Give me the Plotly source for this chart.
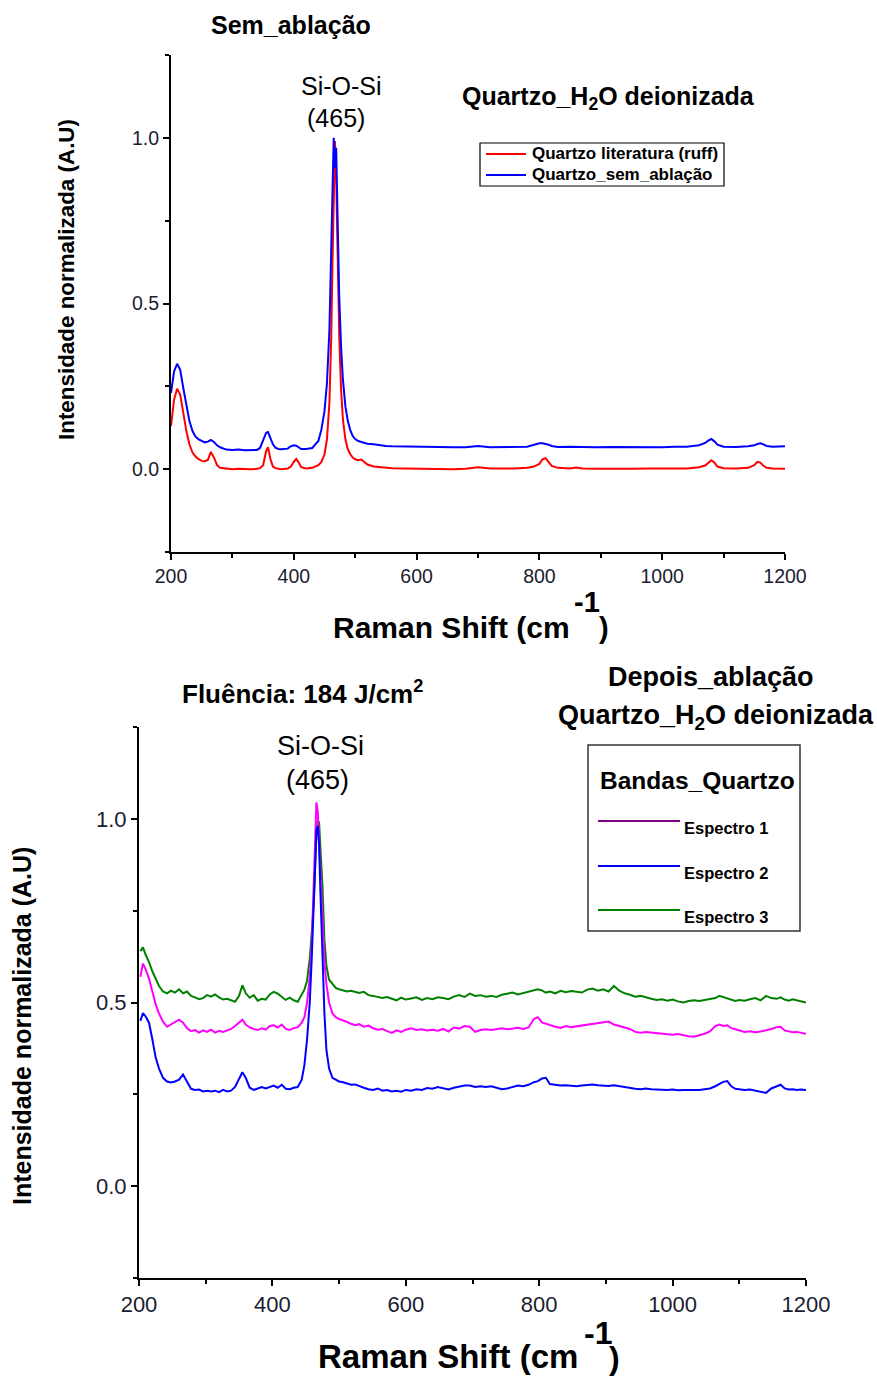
import plotly.graph_objects as go

# ---------------- data: Raman spectra (normalised intensity) ----------------
# Top panel: before ablation
top_shift = [200, 205, 210, 215, 220, 225, 230, 235, 240, 245,
             250, 255, 260, 265, 270, 275, 280, 290, 300, 310,
             320, 330, 340, 345, 350, 355, 358, 362, 366, 370,
             375, 380, 390, 395, 400, 404, 408, 412, 420, 430,
             440, 445, 450, 454, 458, 461, 463, 465, 467, 469,
             471, 474, 477, 480, 484, 488, 492, 496, 500, 505,
             510, 515, 520, 530, 540, 550, 560, 580, 600, 620,
             640, 660, 680, 700, 720, 740, 760, 780, 790, 800,
             805, 810, 815, 820, 830, 850, 860, 870, 890, 920,
             950, 980, 1000, 1020, 1040, 1060, 1070, 1075, 1080, 1085,
             1090, 1100, 1120, 1140, 1150, 1155, 1160, 1165, 1170, 1180,
             1190, 1200]

quartzo_ruff = [0.13, 0.21, 0.243, 0.225, 0.17, 0.115, 0.075, 0.05, 0.038, 0.030,
                0.025, 0.024, 0.028, 0.052, 0.035, 0.012, 0.004, 0.001, 0.0, 0.001,
                0.0, 0.0, 0.001, 0.003, 0.012, 0.055, 0.066, 0.03, 0.008, 0.003,
                0.001, 0.0, 0.002, 0.008, 0.022, 0.031, 0.02, 0.006, 0.002, 0.004,
                0.012, 0.022, 0.045, 0.09, 0.2, 0.4, 0.62, 0.85, 0.99, 0.88,
                0.66, 0.4, 0.24, 0.15, 0.09, 0.06, 0.045, 0.035, 0.03, 0.027,
                0.029, 0.022, 0.014, 0.008, 0.006, 0.004, 0.003, 0.002, 0.001, 0.0,
                0.001, 0.0, 0.001, 0.006, 0.002, 0.001, 0.002, 0.004, 0.007, 0.016,
                0.03, 0.033, 0.022, 0.01, 0.004, 0.002, 0.005, 0.002, 0.001, 0.0,
                0.001, 0.002, 0.001, 0.002, 0.002, 0.006, 0.011, 0.018, 0.027, 0.02,
                0.008, 0.003, 0.002, 0.004, 0.012, 0.022, 0.02, 0.01, 0.004, 0.002,
                0.001, 0.001]

quartzo_sem_ablacao = [0.23, 0.295, 0.318, 0.30, 0.245, 0.19, 0.145, 0.115, 0.098, 0.09,
                       0.085, 0.081, 0.083, 0.088, 0.082, 0.072, 0.066, 0.059, 0.058, 0.059,
                       0.057, 0.058, 0.058, 0.064, 0.085, 0.11, 0.112, 0.092, 0.075, 0.065,
                       0.061, 0.060, 0.062, 0.069, 0.072, 0.071, 0.066, 0.061, 0.061, 0.064,
                       0.085, 0.12, 0.175, 0.26, 0.42, 0.68, 0.92, 1.0, 0.91, 0.97,
                       0.79, 0.52, 0.37, 0.27, 0.19, 0.145, 0.118, 0.1, 0.091, 0.085,
                       0.082, 0.079, 0.077, 0.075, 0.072, 0.07, 0.069, 0.068, 0.067, 0.066,
                       0.067, 0.066, 0.066, 0.07, 0.066, 0.066, 0.067, 0.068, 0.073, 0.078,
                       0.078, 0.077, 0.074, 0.07, 0.067, 0.068, 0.067, 0.068, 0.066, 0.067,
                       0.066, 0.067, 0.066, 0.068, 0.068, 0.072, 0.079, 0.086, 0.091, 0.084,
                       0.074, 0.068, 0.067, 0.069, 0.072, 0.076, 0.078, 0.075, 0.07, 0.068,
                       0.068, 0.069]

# Bottom panel: after ablation (fluence 184 J/cm2)
bot_shift = [202, 206, 210, 215, 220, 225, 230, 236, 242, 248,
             254, 260, 266, 272, 278, 284, 290, 296, 302, 308,
             314, 320, 326, 332, 338, 344, 350, 355, 360, 366,
             372, 378, 384, 390, 396, 402, 408, 414, 420, 426,
             432, 438, 444, 448, 452, 456, 459, 462, 464, 466,
             468, 470, 472, 475, 478, 481, 485, 490, 495, 500,
             506, 512, 518, 524, 530, 537, 544, 551, 558, 565,
             572, 579, 586, 593, 600, 608, 616, 624, 632, 640,
             648, 656, 664, 672, 680, 688, 696, 704, 712, 720,
             728, 736, 744, 752, 760, 768, 776, 784, 792, 798,
             804, 810, 816, 824, 832, 840, 848, 856, 864, 872,
             880, 888, 896, 904, 912, 920, 928, 936, 944, 952,
             960, 968, 976, 984, 992, 1000, 1008, 1016, 1024, 1032,
             1040, 1048, 1056, 1064, 1070, 1076, 1082, 1088, 1094, 1100,
             1108, 1116, 1124, 1132, 1140, 1148, 1156, 1162, 1168, 1174,
             1180, 1186, 1192, 1200]

espectro_1 = [0.57, 0.606, 0.59, 0.565, 0.53, 0.495, 0.47, 0.448, 0.434, 0.44,
              0.447, 0.453, 0.445, 0.43, 0.422, 0.425, 0.418, 0.424, 0.42, 0.426,
              0.418, 0.423, 0.42, 0.425, 0.428, 0.436, 0.445, 0.453, 0.44, 0.432,
              0.428, 0.425, 0.43, 0.426, 0.436, 0.438, 0.432, 0.44, 0.428, 0.425,
              0.43, 0.433, 0.445, 0.46, 0.5, 0.57, 0.66, 0.82, 0.98, 1.045,
              1.02, 0.93, 0.86, 0.72, 0.61, 0.55, 0.5, 0.47, 0.46, 0.455,
              0.452, 0.447, 0.442, 0.438, 0.441, 0.434, 0.437, 0.43, 0.426, 0.428,
              0.422, 0.417, 0.424, 0.42, 0.426, 0.43, 0.425, 0.427, 0.424, 0.426,
              0.423, 0.428, 0.421, 0.432, 0.429, 0.436, 0.434, 0.42, 0.425, 0.427,
              0.425, 0.428, 0.43, 0.427, 0.429, 0.431, 0.428, 0.432, 0.455, 0.46,
              0.446, 0.442, 0.438, 0.434, 0.431, 0.436, 0.433, 0.435, 0.438, 0.44,
              0.442, 0.444, 0.446, 0.448, 0.44, 0.436, 0.43, 0.428, 0.42, 0.418,
              0.42, 0.418, 0.417, 0.414, 0.413, 0.412, 0.414, 0.41, 0.408, 0.407,
              0.41, 0.415, 0.421, 0.436, 0.44, 0.436, 0.438, 0.43, 0.427, 0.424,
              0.42, 0.422, 0.419, 0.421, 0.424, 0.428, 0.433, 0.434, 0.424, 0.421,
              0.419, 0.42, 0.417, 0.415]

espectro_2 = [0.45, 0.471, 0.462, 0.445, 0.4, 0.35, 0.32, 0.295, 0.285, 0.282,
              0.285, 0.29, 0.304, 0.285, 0.265, 0.262, 0.263, 0.258, 0.26, 0.258,
              0.26, 0.256, 0.262, 0.258, 0.26, 0.27, 0.29, 0.31, 0.295, 0.268,
              0.262, 0.265, 0.27, 0.266, 0.27, 0.274, 0.268, 0.276, 0.265, 0.264,
              0.268, 0.27, 0.29, 0.33, 0.4, 0.5, 0.62, 0.78, 0.9, 0.97,
              0.98, 0.93, 0.8, 0.62, 0.47, 0.37, 0.32, 0.295, 0.29, 0.285,
              0.283, 0.28, 0.276, 0.277, 0.272, 0.268, 0.264, 0.262, 0.266, 0.26,
              0.262, 0.258, 0.26, 0.257, 0.262, 0.26, 0.264, 0.262, 0.267, 0.265,
              0.27, 0.266, 0.263, 0.268, 0.272, 0.274, 0.274, 0.27, 0.272, 0.27,
              0.272, 0.267, 0.264, 0.266, 0.27, 0.274, 0.272, 0.276, 0.283, 0.286,
              0.293, 0.295, 0.278, 0.276, 0.274, 0.275, 0.273, 0.272, 0.274, 0.276,
              0.277, 0.275, 0.274, 0.273, 0.275, 0.272, 0.27, 0.268, 0.265, 0.264,
              0.266, 0.264, 0.263, 0.264, 0.262, 0.263, 0.261, 0.262, 0.263, 0.262,
              0.262, 0.264, 0.266, 0.272, 0.279, 0.284, 0.286, 0.272, 0.265, 0.263,
              0.262, 0.263, 0.26, 0.258, 0.254, 0.266, 0.272, 0.276, 0.266, 0.263,
              0.264, 0.262, 0.263, 0.262]

espectro_3 = [0.64, 0.65, 0.63, 0.61, 0.585, 0.565, 0.545, 0.53, 0.525, 0.532,
              0.527, 0.536, 0.525, 0.53, 0.518, 0.514, 0.509, 0.512, 0.52, 0.516,
              0.522, 0.514, 0.508, 0.51, 0.505, 0.502, 0.518, 0.547, 0.525, 0.513,
              0.52, 0.505, 0.51, 0.508, 0.522, 0.529, 0.524, 0.515, 0.507, 0.513,
              0.506, 0.502, 0.52, 0.535, 0.56, 0.62, 0.69, 0.77, 0.86, 0.96,
              0.995, 0.99, 0.92, 0.82, 0.67, 0.6, 0.562, 0.55, 0.54, 0.536,
              0.534, 0.53, 0.532, 0.528, 0.526, 0.529, 0.52, 0.518, 0.516, 0.512,
              0.515, 0.51, 0.506, 0.513, 0.508, 0.511, 0.514, 0.507, 0.512, 0.509,
              0.514, 0.512, 0.509, 0.516, 0.52, 0.515, 0.524, 0.518, 0.52, 0.516,
              0.518, 0.515, 0.521, 0.524, 0.527, 0.522, 0.526, 0.53, 0.534, 0.536,
              0.533, 0.527, 0.53, 0.525, 0.532, 0.528, 0.531, 0.529, 0.527, 0.535,
              0.538, 0.532, 0.536, 0.53, 0.545, 0.532, 0.525, 0.521, 0.516, 0.518,
              0.513, 0.51, 0.507, 0.509, 0.505, 0.508, 0.503, 0.5, 0.504, 0.506,
              0.504, 0.507, 0.51, 0.512, 0.518, 0.514, 0.51, 0.508, 0.504, 0.507,
              0.505, 0.509, 0.512, 0.506, 0.518, 0.512, 0.51, 0.514, 0.508, 0.505,
              0.509, 0.506, 0.503, 0.5]

x_ticks = [200, 400, 600, 800, 1000, 1200]
y_ticks = [0.0, 0.5, 1.0]

# ---------------- page geometry helpers ----------------
W, H = 877, 1376
FONT = "Arial, 'Liberation Sans', sans-serif"


def fx(p):
    return p / W


def fy(p):
    return 1 - p / H


RED, BLUE, MAGENTA, GREEN, PURPLE = "#ff0000", "#0000ff", "#ff00ff", "#008000", "#800080"

fig = go.Figure()

fig.add_trace(go.Scatter(x=top_shift, y=quartzo_ruff, mode="lines",
                         line=dict(color=RED, width=2),
                         name="Quartzo literatura (ruff)", xaxis="x", yaxis="y"))
fig.add_trace(go.Scatter(x=top_shift, y=quartzo_sem_ablacao, mode="lines",
                         line=dict(color=BLUE, width=2),
                         name="Quartzo_sem_ablação", xaxis="x", yaxis="y"))

fig.add_trace(go.Scatter(x=bot_shift, y=espectro_3, mode="lines",
                         line=dict(color=GREEN, width=2),
                         name="Espectro 3", xaxis="x2", yaxis="y2"))
fig.add_trace(go.Scatter(x=bot_shift, y=espectro_1, mode="lines",
                         line=dict(color=MAGENTA, width=2),
                         name="Espectro 1", xaxis="x2", yaxis="y2"))
fig.add_trace(go.Scatter(x=bot_shift, y=espectro_2, mode="lines",
                         line=dict(color=BLUE, width=2),
                         name="Espectro 2", xaxis="x2", yaxis="y2"))


def x_axis(domain, anchor, size):
    return dict(domain=domain, anchor=anchor, range=[200, 1200], automargin=False,
                tickvals=x_ticks, ticktext=[str(v) for v in x_ticks],
                showline=True, linecolor="black", linewidth=2,
                ticks="outside", ticklen=6, tickwidth=2, tickcolor="black",
                minor=dict(ticks="outside", ticklen=4, tickwidth=2,
                           tickcolor="black", dtick=100, tick0=200),
                showgrid=False, zeroline=False,
                tickfont=dict(family=FONT, size=size, color="#1c1c30"))


def y_axis(domain, anchor, size):
    return dict(domain=domain, anchor=anchor, range=[-0.25, 1.25], automargin=False,
                tickvals=y_ticks, ticktext=[f"{v:.1f}" for v in y_ticks],
                showline=True, linecolor="black", linewidth=2,
                ticks="outside", ticklen=6, tickwidth=2, tickcolor="black",
                minor=dict(ticks="outside", ticklen=4, tickwidth=2,
                           tickcolor="black", dtick=0.25, tick0=0),
                showgrid=False, zeroline=False,
                tickfont=dict(family=FONT, size=size, color="#1c1c30"))


ann = []


def text(x, y, s, size, bold=True, anchor="center", angle=0):
    ann.append(dict(xref="paper", yref="paper", x=fx(x), y=fy(y),
                    xanchor=anchor, yanchor="middle", showarrow=False,
                    textangle=angle,
                    text=f"<b>{s}</b>" if bold else s,
                    font=dict(family=FONT, size=size, color="black")))


# top panel texts
text(291, 25, "Sem_ablação", 25)
text(608, 98, "Quartzo_H<sub>2</sub>O deionizada", 25)
text(341, 86, "Si-O-Si", 25, bold=False)
text(336, 118, "(465)", 25, bold=False)
text(66, 280, "Intensidade normalizada (A.U)", 22.4, angle=-90)
text(572, 627, "Raman Shift (cm", 30, anchor="right")
text(572, 602, "-1", 29, anchor="left")
text(597, 628, ")", 29, anchor="left")

# bottom panel texts
text(302, 693, "Fluência: 184 J/cm<sup>2</sup>", 26)
text(711, 677, "Depois_ablação", 27)
text(716, 717, "Quartzo_H<sub>2</sub>O deionizada", 27)
text(320, 746, "Si-O-Si", 27, bold=False)
text(317, 780, "(465)", 27, bold=False)
text(22, 1026, "Intensidade normalizada (A.U)", 25, angle=-90)
text(580, 1356, "Raman Shift (cm", 33, anchor="right")
text(582, 1333, "-1", 32, anchor="left")
text(607, 1358, ")", 32, anchor="left")

# legend of the top panel
shapes = [dict(type="rect", xref="paper", yref="paper",
               x0=fx(480), x1=fx(724), y0=fy(186), y1=fy(143),
               line=dict(color="black", width=1.2))]
for yy, col, lab in [(154, RED, "Quartzo literatura (ruff)"),
                     (175, BLUE, "Quartzo_sem_ablação")]:
    shapes.append(dict(type="line", xref="paper", yref="paper",
                       x0=fx(486), x1=fx(526), y0=fy(yy), y1=fy(yy),
                       line=dict(color=col, width=2)))
    text(530, yy, lab, 17, anchor="left")

# legend of the bottom panel
shapes.append(dict(type="rect", xref="paper", yref="paper",
                   x0=fx(588), x1=fx(800), y0=fy(931), y1=fy(745),
                   line=dict(color="#333333", width=1.5)))
text(697, 780, "Bandas_Quartzo", 24.5)
for yy, col, lab in [(821, PURPLE, "Espectro 1"),
                     (866, BLUE, "Espectro 2"),
                     (910, GREEN, "Espectro 3")]:
    shapes.append(dict(type="line", xref="paper", yref="paper",
                       x0=fx(598), x1=fx(680), y0=fy(yy), y1=fy(yy),
                       line=dict(color=col, width=2)))
    text(682, yy + 7, lab, 16.5, anchor="left")

fig.update_layout(
    width=W, height=H,
    margin=dict(l=0, r=0, t=0, b=0),
    paper_bgcolor="white", plot_bgcolor="white",
    showlegend=False,
    xaxis=x_axis([fx(171), fx(785)], "y", 19.5),
    yaxis=y_axis([fy(552), fy(55)], "x", 19.5),
    xaxis2=x_axis([fx(139), fx(806)], "y2", 22),
    yaxis2=y_axis([fy(1278), fy(727)], "x2", 22),
    annotations=ann,
    shapes=shapes,
)

fig.write_html("out.html")
